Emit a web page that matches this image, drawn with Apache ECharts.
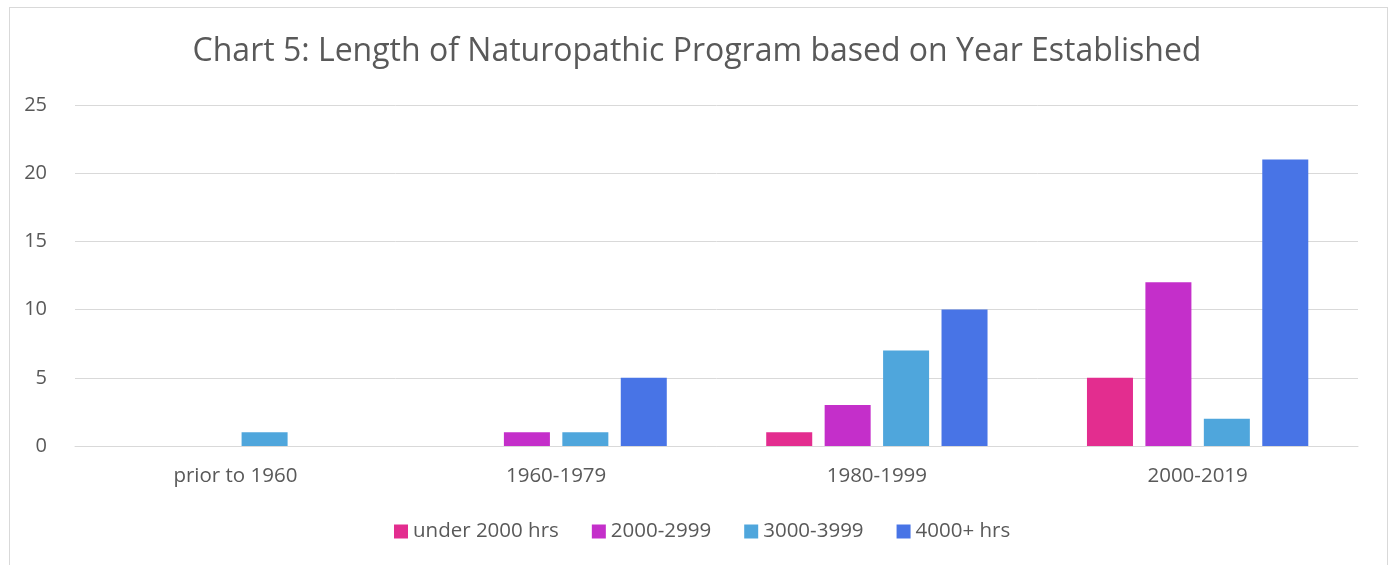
<!DOCTYPE html>
<html>
<head>
<meta charset="utf-8">
<script src="https://cdn.jsdelivr.net/npm/echarts@6/dist/echarts.min.js"></script>
<style>
    html, body { margin: 0; padding: 0; background: #fff; }
    .frame {
        position: absolute; left: 9px; top: 7px;
        width: 1377px; height: 600px;
        border: 1px solid #d9d9d9;
    }
    #chart { position: absolute; left: 0; top: 0; width: 1394px; height: 565px; }
</style>
</head>
<body>
<div class="frame"></div>
<div id="chart"></div>
<script>
    // categories and values
    var categories = ['prior to 1960', '1960-1979', '1980-1999', '2000-2019'];
    var seriesNames = ['under 2000 hrs', '2000-2999', '3000-3999', '4000+ hrs'];
    var under2000 = [0, 0, 1, 5];
    var h2000to2999 = [0, 1, 3, 12];
    var h3000to3999 = [1, 1, 7, 2];
    var h4000plus = [0, 5, 10, 21];
    var yTicks = [0, 5, 10, 15, 20, 25];

    var colors = ['#e32d8f', '#c42fca', '#4fa6dc', '#4874e6'];
    var font = '"Open Sans", "Noto Sans", sans-serif';
    var textColor = '#595959';

    var allData = [under2000, h2000to2999, h3000to3999, h4000plus];

    var chart = echarts.init(document.getElementById('chart'));
    chart.setOption({
        animation: false,
        title: {
            text: 'Chart 5: Length of Naturopathic Program based on Year Established',
            left: 'center',
            top: 31,
            textStyle: { fontFamily: font, fontSize: 32, fontWeight: 'normal', color: textColor }
        },
        legend: {
            data: seriesNames,
            bottom: 18,
            left: 389,
            icon: 'rect',
            itemWidth: 14,
            itemHeight: 14,
            itemGap: 33,
            textStyle: { fontFamily: font, fontSize: 20.5, color: textColor }
        },
        grid: { left: 75, right: 36, top: 105, bottom: 119, containLabel: false },
        xAxis: {
            type: 'category',
            data: categories,
            axisLine: { lineStyle: { color: '#d9d9d9', width: 1 } },
            axisTick: { show: false },
            axisLabel: { fontFamily: font, fontSize: 20.5, color: textColor, margin: 20 }
        },
        yAxis: {
            type: 'value',
            min: yTicks[0],
            max: yTicks[yTicks.length - 1],
            interval: 5,
            axisLine: { show: false },
            axisTick: { show: false },
            splitLine: { lineStyle: { color: '#d9d9d9', width: 1 } },
            axisLabel: { fontFamily: font, fontSize: 20, color: textColor, margin: 28 }
        },
        series: seriesNames.map(function (name, i) {
            return {
                name: name,
                type: 'bar',
                data: allData[i],
                barGap: '27%',
                barCategoryGap: '31%',
                itemStyle: { color: colors[i] }
            };
        })
    });
</script>
</body>
</html>
